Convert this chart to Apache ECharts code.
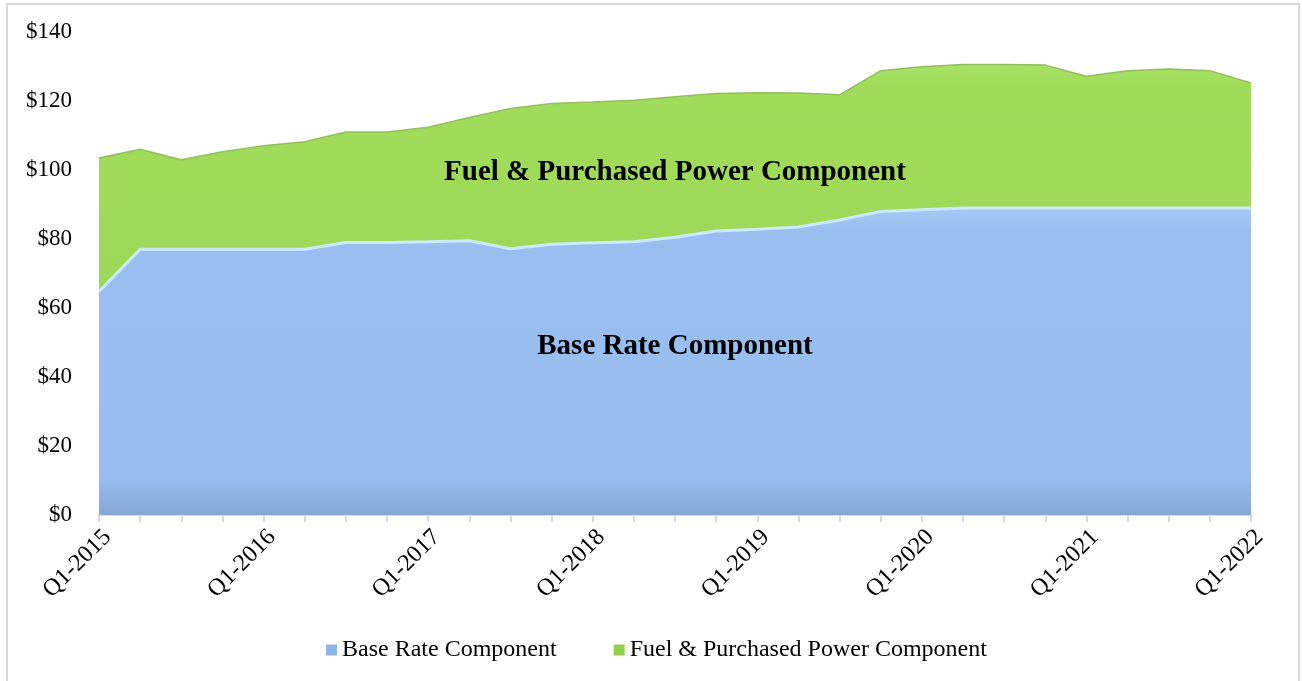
<!DOCTYPE html>
<html>
<head>
	<meta charset="utf-8">
	<title>Rate Components</title>
	<script src="https://cdn.jsdelivr.net/npm/echarts@6/dist/echarts.min.js"></script>
	<style type="text/css">
		html, body { margin: 0; padding: 0; background: #fff; }
		#main { width: 1302px; height: 681px; }
	</style>
</head>
<body>
	<div id="main"></div>
	<script type="text/javascript">
		var quarters = [
			'Q1-2015','Q2-2015','Q3-2015','Q4-2015',
			'Q1-2016','Q2-2016','Q3-2016','Q4-2016',
			'Q1-2017','Q2-2017','Q3-2017','Q4-2017',
			'Q1-2018','Q2-2018','Q3-2018','Q4-2018',
			'Q1-2019','Q2-2019','Q3-2019','Q4-2019',
			'Q1-2020','Q2-2020','Q3-2020','Q4-2020',
			'Q1-2021','Q2-2021','Q3-2021','Q4-2021',
			'Q1-2022'
		];
		var baseRate = [
			64.8, 77.0, 77.0, 77.0,
			77.0, 77.0, 79.0, 79.0,
			79.2, 79.5, 77.2, 78.5,
			78.9, 79.2, 80.5, 82.3,
			82.8, 83.5, 85.5, 88.0,
			88.5, 89.0, 89.0, 89.0,
			89.0, 89.0, 89.0, 89.0,
			89.0
		];
		var fuelPower = [
			38.7, 29.0, 26.0, 28.3,
			30.0, 31.2, 32.0, 32.0,
			33.2, 35.7, 40.6, 40.8,
			40.8, 41.0, 40.7, 39.9,
			39.6, 38.8, 36.3, 40.8,
			41.4, 41.6, 41.6, 41.4,
			38.2, 39.8, 40.3, 39.8,
			36.2
		];
		var yTicks = { min: 0, max: 140, step: 20 };

		var serif = '"Liberation Serif", "Times New Roman", serif';
		var blueFill = new echarts.graphic.LinearGradient(0, 0, 0, 1, [
			{ offset: 0, color: '#a3c9f4' },
			{ offset: 0.08, color: '#99bff0' },
			{ offset: 0.88, color: '#98bdee' },
			{ offset: 1, color: '#86a7d4' }
		]);
		var greenFill = new echarts.graphic.LinearGradient(0, 0, 0, 1, [
			{ offset: 0, color: '#a8e263' },
			{ offset: 0.1, color: '#a0dc5a' },
			{ offset: 1, color: '#9ed859' }
		]);

		var myChart = echarts.init(document.getElementById('main'));
		var option = {
			animation: false,
			grid: { left: 99, right: 51, top: 32, bottom: 166 },
			legend: {
				bottom: 14,
				left: 321,
				icon: 'rect',
				itemWidth: 11,
				itemHeight: 11,
				itemGap: 57,
				textStyle: { fontFamily: serif, fontSize: 24, color: '#000' },
				data: [
					{ name: 'Base Rate Component', itemStyle: { color: '#8fb5e6' } },
					{ name: 'Fuel & Purchased Power Component', itemStyle: { color: '#93cf4e' } }
				]
			},
			xAxis: {
				type: 'category',
				boundaryGap: false,
				data: quarters,
				axisLine: { lineStyle: { color: '#d9d9d9', width: 2 } },
				axisTick: { interval: 0, length: 7, lineStyle: { color: '#d9d9d9', width: 2 } },
				axisLabel: {
					interval: 3,
					rotate: 45,
					margin: 10,
					verticalAlign: 'top',
					fontFamily: serif,
					fontSize: 24,
					color: '#000'
				},
				splitLine: { show: false }
			},
			yAxis: {
				type: 'value',
				min: yTicks.min,
				max: yTicks.max,
				interval: yTicks.step,
				axisLine: { show: false },
				axisTick: { show: false },
				splitLine: { show: false },
				axisLabel: {
					margin: 27,
					fontFamily: serif,
					fontSize: 23,
					color: '#000',
					formatter: '${value}'
				}
			},
			series: [
				{
					name: 'Base Rate Component',
					type: 'line',
					stack: 'rate',
					symbol: 'none',
					data: baseRate,
					lineStyle: { color: '#cdeafd', width: 3 },
					areaStyle: { color: blueFill, opacity: 1 },
					itemStyle: { color: '#8fb5e6' },
					z: 3
				},
				{
					name: 'Fuel & Purchased Power Component',
					type: 'line',
					stack: 'rate',
					symbol: 'none',
					data: fuelPower,
					lineStyle: { color: '#93bf5c', width: 1.5 },
					areaStyle: { color: greenFill, opacity: 1 },
					itemStyle: { color: '#93cf4e' },
					z: 2
				}
			],
			graphic: [
				{
					type: 'rect',
					shape: { x: 7, y: 4, width: 1292, height: 700 },
					style: { fill: 'none', stroke: '#d9d9d9', lineWidth: 2 },
					silent: true
				},
				{
					type: 'text',
					x: 675, y: 173, z: 10,
					style: {
						text: 'Fuel & Purchased Power Component',
						fontFamily: serif, fontSize: 29, fontWeight: 'bold',
						fill: '#000', align: 'center', verticalAlign: 'middle'
					}
				},
				{
					type: 'text',
					x: 675, y: 347, z: 10,
					style: {
						text: 'Base Rate Component',
						fontFamily: serif, fontSize: 29, fontWeight: 'bold',
						fill: '#000', align: 'center', verticalAlign: 'middle'
					}
				}
			]
		};
		myChart.setOption(option);
	</script>
</body>
</html>
